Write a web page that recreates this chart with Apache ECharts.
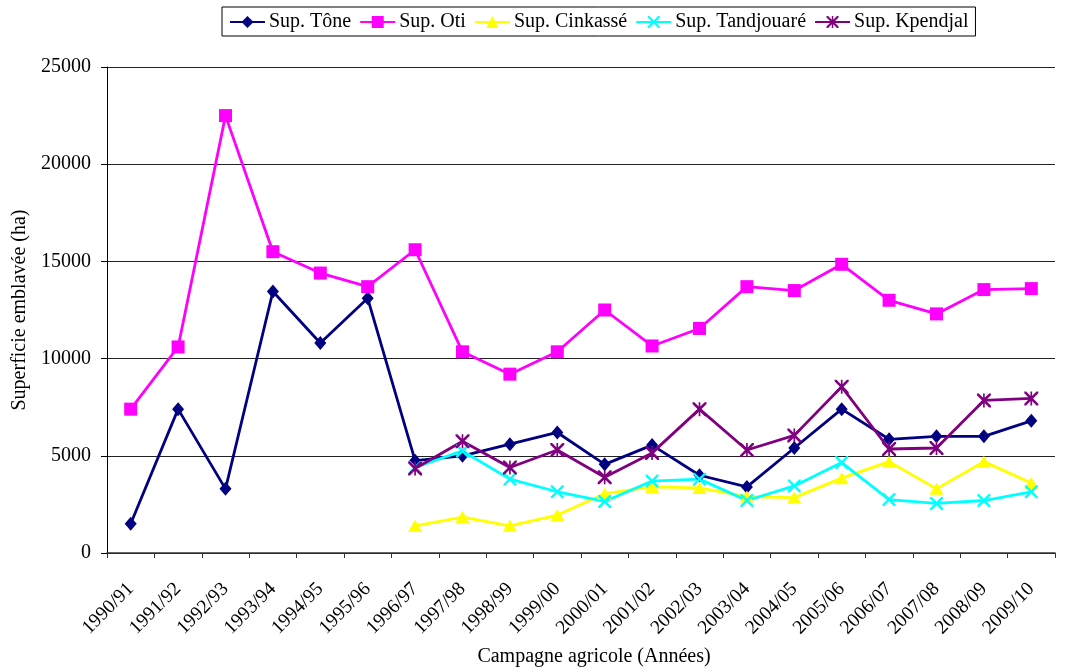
<!DOCTYPE html>
<html>
<head>
<meta charset="utf-8">
<script src="https://cdn.jsdelivr.net/npm/echarts@6/dist/echarts.min.js"></script>
<style>
  html, body { margin: 0; padding: 0; background: #fff; }
  #chart { width: 1074px; height: 672px; }
</style>
</head>
<body>
<div id="chart"></div>
<script>
// Campagnes agricoles (catégories de l'axe X)
const campagnes = ['1990/91', '1991/92', '1992/93', '1993/94', '1994/95', '1995/96', '1996/97',
  '1997/98', '1998/99', '1999/00', '2000/01', '2001/02', '2002/03', '2003/04', '2004/05',
  '2005/06', '2006/07', '2007/08', '2008/09', '2009/10'];

// Superficies emblavées (ha) par préfecture
const supTone = [1500, 7400, 3300, 13450, 10800, 13100, 4750, 5000, 5600, 6200, 4560, 5550,
  4000, 3400, 5400, 7400, 5850, 6000, 6000, 6800];
const supOti = [7400, 10600, 22500, 15500, 14400, 13700, 15600, 10350, 9200, 10350, 12500, 10650,
  11550, 13700, 13500, 14850, 13000, 12300, 13550, 13600];
const supCinkasse = [null, null, null, null, null, null, 1400, 1850, 1400, 1950, 3050, 3400,
  3350, 2900, 2850, 3850, 4700, 3300, 4700, 3600];
const supTandjouare = [null, null, null, null, null, null, 4400, 5250, 3800, 3150, 2650, 3700,
  3800, 2700, 3450, 4650, 2750, 2550, 2700, 3150];
const supKpendjal = [null, null, null, null, null, null, 4350, 5750, 4400, 5300, 3900, 5150,
  7400, 5300, 6050, 8550, 5350, 5400, 7850, 7950];

// Graduations de l'axe Y
const yTicks = { min: 0, max: 25000, step: 5000 };

const FONT = '"Liberation Serif", "Times New Roman", serif';

// Marqueurs en croix (x) et en astérisque
const crossPath = 'M0,0L2.6,0L10,7.4L17.4,0L20,0L20,2.6L12.6,10L20,17.4L20,20L17.4,20L10,12.6L2.6,20L0,20L0,17.4L7.4,10L0,2.6Z';
const starPath = crossPath + 'M8.8,0L11.2,0L11.2,20L8.8,20Z';

function makeSeries(name, data, color, symbol, size) {
  return {
    name: name,
    type: 'line',
    data: data,
    connectNulls: false,
    symbol: symbol,
    symbolSize: size,
    showAllSymbol: true,
    lineStyle: { color: color, width: 2.8 },
    itemStyle: { color: color },
    emphasis: { disabled: true },
    animation: false
  };
}

const chart = echarts.init(document.getElementById('chart'));
chart.setOption({
  backgroundColor: '#ffffff',
  animation: false,
  textStyle: { fontFamily: FONT, color: '#000' },
  legend: {
    left: 222,
    top: 7,
    padding: [5, 7, 4, 7],
    itemWidth: 35,
    itemHeight: 15,
    itemGap: 8,
    borderColor: '#000',
    borderWidth: 1,
    backgroundColor: '#fff',
    textStyle: { fontFamily: FONT, fontSize: 20, color: '#000', padding: [0, 0, 0, -1] },
    data: ['Sup. Tône', 'Sup. Oti', 'Sup. Cinkassé', 'Sup. Tandjouaré', 'Sup. Kpendjal']
  },
  grid: { left: 107, right: 19, top: 67, bottom: 117, containLabel: false },
  xAxis: {
    type: 'category',
    data: campagnes,
    boundaryGap: true,
    name: 'Campagne agricole (Années)',
    nameLocation: 'middle',
    nameGap: 94,
    nameTextStyle: { fontFamily: FONT, fontSize: 20, color: '#000', padding: [0, 0, 0, 26] },
    axisLine: { show: true, lineStyle: { color: '#333', width: 1.5 } },
    axisTick: { show: true, alignWithLabel: false, length: 5, lineStyle: { color: '#333' } },
    axisLabel: { interval: 0, rotate: 45, margin: 33, fontFamily: FONT, fontSize: 19.5, color: '#000' },
    splitLine: { show: false }
  },
  yAxis: {
    type: 'value',
    min: yTicks.min,
    max: yTicks.max,
    interval: yTicks.step,
    name: 'Superficie emblavée (ha)',
    nameLocation: 'middle',
    nameGap: 72,
    nameTextStyle: { fontFamily: FONT, fontSize: 20, color: '#000' },
    axisLine: { show: true, lineStyle: { color: '#000', width: 1 } },
    axisTick: { show: true, length: 6, lineStyle: { color: '#000' } },
    axisLabel: {
      margin: 16, fontFamily: FONT, fontSize: 20, color: '#000',
      formatter: function (v) { return String(v); }
    },
    splitLine: { show: true, lineStyle: { color: '#222', width: 1 } }
  },
  series: [
    makeSeries('Sup. Tône', supTone, '#000080', 'diamond', [12, 14]),
    makeSeries('Sup. Oti', supOti, '#FF00FF', 'rect', 13),
    makeSeries('Sup. Cinkassé', supCinkasse, '#FFFF00', 'triangle', [14, 12]),
    makeSeries('Sup. Tandjouaré', supTandjouare, '#00FFFF', 'path://' + crossPath, 13),
    makeSeries('Sup. Kpendjal', supKpendjal, '#800080', 'path://' + starPath, 14)
  ]
});
</script>
</body>
</html>
